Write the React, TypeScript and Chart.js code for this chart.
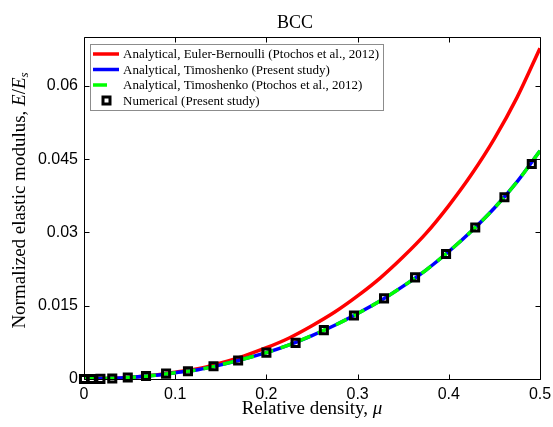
import React, { useEffect, useRef } from "react";
import { Chart, registerables } from "chart.js";

Chart.register(...registerables);

// ---- data ----
const curveX = [0, 0.025, 0.05, 0.075, 0.1, 0.125, 0.15, 0.175, 0.2, 0.225, 0.25, 0.275, 0.3, 0.325, 0.35, 0.375, 0.4, 0.425, 0.45, 0.475, 0.5];
const eulerBernoulli = [0, 0.0001, 0.0003, 0.00075, 0.0014, 0.0021, 0.0033, 0.0047, 0.0064, 0.0084, 0.0109, 0.0137, 0.017, 0.0207, 0.025, 0.0298, 0.0355, 0.0419, 0.0492, 0.0577, 0.0677];
const timoshenkoPresent = [0, 0.0001, 0.0003, 0.0007, 0.0013, 0.0019, 0.0029, 0.0041, 0.0054, 0.007, 0.0089, 0.011, 0.0134, 0.016, 0.019, 0.0223, 0.0261, 0.0303, 0.035, 0.0404, 0.0467];
const timoshenkoPtochos = [0, 0.0001, 0.0003, 0.0007, 0.0013, 0.0019, 0.0029, 0.0041, 0.0054, 0.007, 0.0089, 0.011, 0.0134, 0.016, 0.019, 0.0223, 0.0261, 0.0303, 0.035, 0.0404, 0.0467];
const numericalX = [0, 0.0085, 0.018, 0.031, 0.048, 0.068, 0.09, 0.114, 0.142, 0.169, 0.2, 0.232, 0.263, 0.296, 0.329, 0.363, 0.397, 0.429, 0.461, 0.491];
const numericalY = [0, 0.00001, 0.00003, 0.0001, 0.0003, 0.0006, 0.0011, 0.0016, 0.0026, 0.0038, 0.0054, 0.0074, 0.01, 0.013, 0.0165, 0.0208, 0.0256, 0.031, 0.0372, 0.044];
const xTicks = [0, 0.1, 0.2, 0.3, 0.4, 0.5];
const xTickLabels = ["0", "0.1", "0.2", "0.3", "0.4", "0.5"];
const yTicks = [0, 0.015, 0.03, 0.045, 0.06];
const yTickLabels = ["0", "0.015", "0.03", "0.045", "0.06"];
const seriesLabels = [
  "Analytical, Euler-Bernoulli (Ptochos et al., 2012)",
  "Analytical, Timoshenko (Present study)",
  "Analytical, Timoshenko (Ptochos et al., 2012)",
  "Numerical (Present study)",
];
const titleText = "BCC";

const SERIF = '"Liberation Serif", "Times New Roman", serif';
const SANS = '"Liberation Sans", Arial, sans-serif';

const decorPlugin = {
  id: "decor",
  afterDraw(chart: any) {
    const ctx: CanvasRenderingContext2D = chart.ctx;
    const { left, right, top, bottom } = chart.chartArea;
    const xs = chart.scales.x;
    const ys = chart.scales.y;
    ctx.save();
    ctx.setLineDash([]);
    ctx.globalAlpha = 1;
    // box
    ctx.strokeStyle = "#000000";
    ctx.lineWidth = 1;
    const L = Math.round(left) + 0.5;
    const R = Math.round(right) + 0.5;
    const T = Math.round(top) + 0.5;
    const B = Math.round(bottom) + 0.5;
    ctx.beginPath();
    ctx.moveTo(L, T);
    ctx.lineTo(R, T);
    ctx.lineTo(R, B);
    ctx.lineTo(L, B);
    ctx.closePath();
    const tl = 5;
    xTicks.forEach((v) => {
      const px = Math.round(xs.getPixelForValue(v)) + 0.5;
      ctx.moveTo(px, B);
      ctx.lineTo(px, B - tl);
      ctx.moveTo(px, T);
      ctx.lineTo(px, T + tl);
    });
    yTicks.forEach((v) => {
      const py = Math.round(ys.getPixelForValue(v)) + 0.5;
      ctx.moveTo(L, py);
      ctx.lineTo(L + tl, py);
      ctx.moveTo(R, py);
      ctx.lineTo(R - tl, py);
    });
    ctx.stroke();

    // legend
    const lx = 90, ly = 44, lw = 293, lh = 66;
    ctx.fillStyle = "#ffffff";
    ctx.fillRect(lx, ly, lw, lh);
    ctx.strokeStyle = "#8c8c8c";
    ctx.lineWidth = 1;
    ctx.strokeRect(lx + 0.5, ly + 0.5, lw, lh);
    ctx.font = `13px ${SERIF}`;
    ctx.textBaseline = "middle";
    ctx.textAlign = "left";
    const rowY = [54, 69.5, 85, 100.5];
    const ds = chart.data.datasets;
    rowY.forEach((y, i) => {
      const d = ds[i];
      ctx.save();
      if (i < 3) {
        ctx.strokeStyle = d.borderColor;
        ctx.lineWidth = d.borderWidth;
        ctx.beginPath();
        ctx.moveTo(93, y);
        ctx.lineTo(i === 2 ? 107 : 119, y);
        ctx.stroke();
      } else {
        ctx.strokeStyle = "#000";
        ctx.lineWidth = 3;
        ctx.strokeRect(106.5 - 3.5, y - 3.5, 7, 7);
      }
      ctx.restore();
      ctx.fillStyle = "#000";
      ctx.fillText(d.label, 123, y + 1);
    });

    // title
    ctx.fillStyle = "#000";
    ctx.textAlign = "center";
    ctx.textBaseline = "alphabetic";
    ctx.font = `18px ${SERIF}`;
    ctx.fillText(titleText, 295, 28);

    const drawSegs = (segs: { t: string; f: string; dy?: number }[], cx: number, baseY: number) => {
      let total = 0;
      segs.forEach((s) => {
        ctx.font = s.f;
        total += ctx.measureText(s.t).width;
      });
      let x = cx - total / 2;
      ctx.textAlign = "left";
      segs.forEach((s) => {
        ctx.font = s.f;
        ctx.fillText(s.t, x, baseY + (s.dy || 0));
        x += ctx.measureText(s.t).width;
      });
    };
    drawSegs(
      [
        { t: "Relative density, ", f: `19px ${SERIF}` },
        { t: "μ", f: `italic 19px ${SERIF}` },
      ],
      312,
      414
    );
    ctx.save();
    ctx.translate(25, 200.5);
    ctx.rotate(-Math.PI / 2);
    drawSegs(
      [
        { t: "Normalized elastic modulus, ", f: `19px ${SERIF}` },
        { t: "E", f: `italic 19px ${SERIF}` },
        { t: "/", f: `19px ${SERIF}` },
        { t: "E", f: `italic 19px ${SERIF}` },
        { t: "s", f: `italic 13px ${SERIF}`, dy: 3 },
      ],
      0,
      0
    );
    ctx.restore();
    ctx.restore();
  },
};

export default function App() {
  const ref = useRef<HTMLCanvasElement | null>(null);
  useEffect(() => {
    if (!ref.current) return;
    const chart = new Chart(ref.current, {
      type: "line",
      data: {
        datasets: [
          {
            label: seriesLabels[0],
            data: curveX.map((x, i) => ({ x, y: eulerBernoulli[i] })),
            borderColor: "#ff0000",
            borderWidth: 3.5,
            pointRadius: 0,
            cubicInterpolationMode: "monotone",
            order: 4,
          },
          {
            label: seriesLabels[1],
            data: curveX.map((x, i) => ({ x, y: timoshenkoPresent[i] })),
            borderColor: "#0000ff",
            borderWidth: 3.5,
            pointRadius: 0,
            cubicInterpolationMode: "monotone",
            order: 3,
          },
          {
            label: seriesLabels[2],
            data: curveX.map((x, i) => ({ x, y: timoshenkoPtochos[i] })),
            borderColor: "#00ff00",
            borderWidth: 3.5,
            borderDash: [12, 8],
            pointRadius: 0,
            cubicInterpolationMode: "monotone",
            order: 2,
          },
          {
            label: seriesLabels[3],
            data: numericalX.map((x, i) => ({ x, y: numericalY[i] })),
            showLine: false,
            borderColor: "#000",
            backgroundColor: "rgba(0,0,0,0)",
            pointStyle: "rect",
            pointRadius: 5,
            pointBorderWidth: 3,
            pointBorderColor: "#000",
            pointBackgroundColor: "rgba(0,0,0,0)",
            clip: false,
            order: 1,
          },
        ] as any,
      },
      options: {
        animation: false,
        responsive: false,
        maintainAspectRatio: false,
        layout: { padding: { left: 0, right: 13, top: 37, bottom: 0 } },
        plugins: { legend: { display: false }, title: { display: false }, tooltip: { enabled: false } },
        scales: {
          x: {
            type: "linear",
            min: 0,
            max: 0.5,
            grid: { display: false, drawTicks: false },
            border: { display: false },
            afterBuildTicks: (s: any) => {
              s.ticks = xTicks.map((v) => ({ value: v }));
            },
            afterFit: (s: any) => {
              s.height = 48;
              s.paddingLeft = 0;
              s.paddingRight = 0;
            },
            ticks: {
              color: "#000",
              font: { family: SANS, size: 16 },
              padding: 6,
              maxRotation: 0,
              callback: (v: any) => {
                const i = xTicks.findIndex((t) => Math.abs(t - v) < 1e-9);
                return i >= 0 ? xTickLabels[i] : "";
              },
            },
          },
          y: {
            type: "linear",
            min: 0,
            max: 0.07,
            grid: { display: false, drawTicks: false },
            border: { display: false },
            afterBuildTicks: (s: any) => {
              s.ticks = yTicks.map((v) => ({ value: v }));
            },
            afterFit: (s: any) => {
              s.width = 84;
              s.paddingTop = 0;
              s.paddingBottom = 0;
            },
            ticks: {
              color: "#000",
              font: { family: SANS, size: 16 },
              padding: 6,
              callback: (v: any) => {
                const i = yTicks.findIndex((t) => Math.abs(t - v) < 1e-9);
                return i >= 0 ? yTickLabels[i] : "";
              },
            },
          },
        },
      } as any,
      plugins: [decorPlugin],
    });
    return () => chart.destroy();
  }, []);
  return (
    <div style={{ position: "fixed", left: 0, top: 0, width: 553, height: 427, background: "#fff" }}>
      <canvas ref={ref} width={553} height={427} style={{ width: 553, height: 427 }} />
    </div>
  );
}
